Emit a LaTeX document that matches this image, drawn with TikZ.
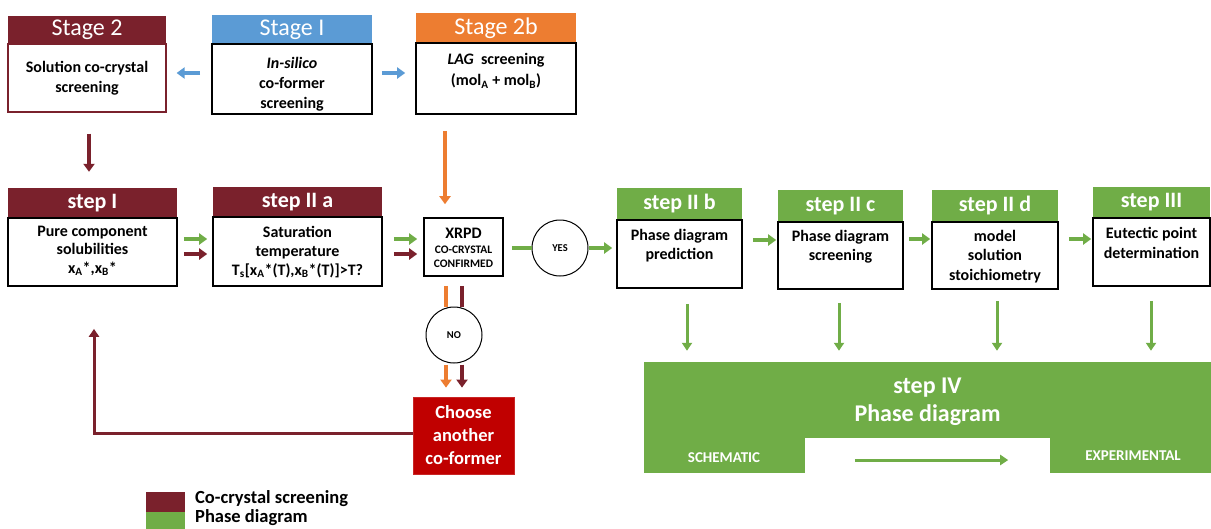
\documentclass[tikz,border=0pt]{standalone}
\usepackage{fontspec}
\setmainfont{Carlito}
\usetikzlibrary{arrows.meta}

\definecolor{wine}{RGB}{122,33,44}
\definecolor{skyb}{RGB}{91,155,213}
\definecolor{orng}{RGB}{237,125,49}
\definecolor{leaf}{RGB}{112,173,71}
\definecolor{alarm}{RGB}{192,0,0}

\begin{document}
\begin{tikzpicture}[x=1pt,y=-1pt,
  stagehdr/.style={rectangle, inner sep=0pt, text=white, font=\fontsize{24}{24}\selectfont},
  stephdr/.style={rectangle, inner sep=0pt, text=white, font=\bfseries\fontsize{22}{22}\selectfont},
  panel/.style={rectangle, inner sep=0pt, draw=black, line width=1.6pt, fill=white},
  txt/.style={align=center, inner sep=0pt, font=\bfseries\fontsize{16}{19.5}\selectfont},
  ring/.style={circle, draw=black, line width=1pt, fill=white, minimum size=56pt, inner sep=0pt,
    font=\bfseries\fontsize{10.5}{10.5}\selectfont},
  keytext/.style={anchor=west, inner sep=0pt, font=\bfseries\fontsize{18.5}{18.5}\selectfont},
  fat/.style={line width=3.6pt, -{Triangle[length=8pt,width=11pt]}},
  bar/.style={line width=3.6pt},
  thin arrow/.style={line width=3pt, -{Triangle[length=8pt,width=10pt]}}
]
\useasboundingbox (0,0) rectangle (1211,528);
\clip (0,0) rectangle (1211,528);

% ---------- top row: stages ----------
\node[stagehdr, fill=wine, minimum width=158pt, minimum height=28pt] (hA) at (87,30) {Stage 2};
\node[panel, draw=wine, line width=1.2pt, minimum width=158pt, minimum height=68pt] (bA) at (87,78) {};
\node[txt] (tA) at (87,78) {Solution co-crystal\\screening};

\node[stagehdr, fill=skyb, minimum width=160pt, minimum height=29pt] (hB) at (292,29.5) {Stage I};
\node[panel, minimum width=160pt, minimum height=70pt] (bB) at (292,79) {};
\node[txt, font=\bfseries\fontsize{16}{20}\selectfont] (tB) at (292,84) {\textit{In-silico}\\co-former\\screening};

\node[stagehdr, fill=orng, minimum width=160pt, minimum height=30pt] (hC) at (496,28) {Stage 2b};
\node[panel, minimum width=160pt, minimum height=71pt] (bC) at (496,78.5) {};
\node[txt, font=\bfseries\fontsize{16}{21}\selectfont] (tC) at (496,71) {\textit{LAG}\ \ screening\\(mol\textsubscript{A} + mol\textsubscript{B})};

% ---------- second row: steps ----------
\node[stephdr, fill=wine, minimum width=169pt, minimum height=30pt] (hS1) at (92.5,203) {step I};
\node[panel, minimum width=169pt, minimum height=68pt] (bS1) at (92.5,252) {};
\node[txt, font=\bfseries\fontsize{16}{18.5}\selectfont] (tS1) at (92.5,251) {Pure component\\solubilities\\x\textsubscript{A}*,x\textsubscript{B}*};

\node[stephdr, fill=wine, minimum width=169pt, minimum height=30pt] (hS2a) at (297.5,202) {step II a};
\node[panel, minimum width=169pt, minimum height=69pt] (bS2a) at (297.5,251.5) {};
\node[txt, font=\bfseries\fontsize{16}{19}\selectfont] (tS2a) at (297.5,252) {Saturation\\temperature\\T\textsubscript{s}[x\textsubscript{A}*(T),x\textsubscript{B}*(T)]>T?};

\node[panel, minimum width=79pt, minimum height=58pt] (xr) at (463.5,247) {};
\node[inner sep=0pt, font=\bfseries\fontsize{16}{16}\selectfont] (xrA) at (463.5,233) {XRPD};
\node[inner sep=0pt, align=center, font=\bfseries\fontsize{11.5}{13.5}\selectfont] (xrB) at (463.5,257) {CO-CRYSTAL\\CONFIRMED};

\node[ring] (yes) at (560,248) {YES};

\node[stephdr, fill=leaf, minimum width=125pt, minimum height=32pt] (hS2b) at (679.5,204) {step II b};
\node[panel, minimum width=125pt, minimum height=68pt] (bS2b) at (679.5,254) {};
\node[txt] (tS2b) at (679.5,245.5) {Phase diagram\\prediction};

\node[stephdr, fill=leaf, minimum width=125pt, minimum height=32pt] (hS2c) at (840.5,206) {step II c};
\node[panel, minimum width=125pt, minimum height=67pt] (bS2c) at (840.5,255.5) {};
\node[txt] (tS2c) at (840.5,246.5) {Phase diagram\\screening};

\node[stephdr, fill=leaf, minimum width=126pt, minimum height=32pt] (hS2d) at (995,206) {step II d};
\node[panel, minimum width=126pt, minimum height=67pt] (bS2d) at (995,255.5) {};
\node[txt] (tS2d) at (995,256.5) {model\\solution\\stoichiometry};

\node[stephdr, fill=leaf, minimum width=117pt, minimum height=31pt] (hS3) at (1151.5,202.5) {step III};
\node[panel, minimum width=117pt, minimum height=68pt] (bS3) at (1151.5,252) {};
\node[txt] (tS3) at (1151.5,243) {Eutectic point\\determination};

% ---------- NO branch ----------
\node[ring] (no) at (454,335) {NO};
\node[rectangle, fill=alarm, draw=alarm!85!white, line width=0.8pt, minimum width=101pt, minimum height=77pt,
  inner sep=0pt, text=white, align=center, font=\bfseries\fontsize{18.5}{23}\selectfont] (ch) at (463.5,435.5)
  {Choose\\another\\co-former};

% ---------- step IV ----------
\node[rectangle, fill=leaf, minimum width=567pt, minimum height=111pt, inner sep=0pt] (iv) at (927.5,417.5) {};
\node[rectangle, fill=white, minimum width=245pt, minimum height=35pt, inner sep=0pt] (notch) at (927.5,455.5) {};
\node[text=white, align=center, inner sep=0pt, font=\bfseries\fontsize{24}{28}\selectfont] (ivt) at (927.5,402) {step IV\\Phase diagram};
\node[text=white, inner sep=0pt, font=\bfseries\fontsize{15}{15}\selectfont] (sch) at (724,458) {SCHEMATIC};
\node[text=white, inner sep=0pt, font=\bfseries\fontsize{15}{15}\selectfont] (exp) at (1133,456) {EXPERIMENTAL};

% ---------- legend ----------
\node[rectangle, fill=wine, minimum width=39pt, minimum height=20pt, inner sep=0pt] (k1) at (165.5,502) {};
\node[rectangle, fill=leaf, minimum width=39pt, minimum height=20pt, inner sep=0pt] (k2) at (165.5,522) {};
\node[keytext] (l1) at (195,499) {Co-crystal screening};
\node[keytext] (l2) at (195,518) {Phase diagram};

% ---------- helper coordinates for connector lanes ----------
\coordinate (yB) at (0,73);
\coordinate (yG) at (0,239);
\coordinate (yR) at (0,254);
\coordinate (yN) at (0,460);
\coordinate (x89) at (89,0);
\coordinate (x94) at (94,0);
\coordinate (x445) at (445,0);
\coordinate (x446) at (446,0);
\coordinate (x462) at (462,0);
\coordinate (d1) at (687,0);
\coordinate (d2) at (839,0);
\coordinate (d3) at (997,0);
\coordinate (d4) at (1151,0);

% ---------- connectors ----------
\draw[skyb, fat, shorten <=11pt, shorten >=10pt] (bB.west |- yB) -- (bA.east |- yB);
\draw[skyb, fat, shorten <=9pt, shorten >=10pt] (bB.east |- yB) -- (bC.west |- yB);

\draw[wine, fat, shorten <=21pt, shorten >=16pt] (bA.south -| x89) -- (hS1.north -| x89);
\draw[orng, fat, shorten <=16pt, shorten >=13pt] (bC.south -| x445) -- (xr.north -| x445);

\draw[leaf, fat, shorten <=6pt, shorten >=5pt] (bS1.east |- yG) -- (bS2a.west |- yG);
\draw[wine, fat, shorten <=6pt, shorten >=5pt] (bS1.east |- yR) -- (bS2a.west |- yR);
\draw[leaf, fat, shorten <=11pt, shorten >=6pt] (bS2a.east |- yG) -- (xr.west |- yG);
\draw[wine, fat, shorten <=11pt, shorten >=6pt] (bS2a.east |- yR) -- (xr.west |- yR);

\draw[leaf, bar, shorten <=8pt] (xr.east |- yes.west) -- (yes.west);
\draw[leaf, fat, shorten >=4pt] (yes.east) -- (bS2b.west |- yes.east);
\draw[leaf, fat, shorten <=10pt, shorten >=1pt] (bS2b.east |- 0,240) -- (bS2c.west |- 0,240);
\draw[leaf, fat, shorten <=5pt, shorten >=1pt] (bS2c.east |- yG) -- (bS2d.west |- yG);
\draw[leaf, fat, shorten <=10pt, shorten >=1pt] (bS2d.east |- yG) -- (bS3.west |- yG);

\draw[leaf, thin arrow, shorten <=15pt, shorten >=11pt] (bS2b.south -| d1) -- (iv.north -| d1);
\draw[leaf, thin arrow, shorten <=13pt, shorten >=11pt] (bS2c.south -| d2) -- (iv.north -| d2);
\draw[leaf, thin arrow, shorten <=11pt, shorten >=11pt] (bS2d.south -| d3) -- (iv.north -| d3);
\draw[leaf, thin arrow, shorten <=14pt, shorten >=11pt] (bS3.south -| d4) -- (iv.north -| d4);

\draw[orng, bar, shorten <=9pt] (xr.south -| x446) -- (no.north -| x446);
\draw[wine, bar, shorten <=9pt] (xr.south -| x462) -- (no.north -| x462);
\draw[orng, fat, shorten <=1pt, shorten >=9pt] (no.south -| x446) -- (ch.north -| x446);
\draw[wine, fat, shorten <=1pt, shorten >=9pt] (no.south -| x462) -- (ch.north -| x462);

\draw[wine, thin arrow, shorten >=42pt] ([yshift=2pt]ch.west) -| (x94 |- bS1.south);

\draw[leaf, thin arrow, shorten <=50pt, shorten >=42pt] (notch.west |- yN) -- (notch.east |- yN);
\end{tikzpicture}
\end{document}
